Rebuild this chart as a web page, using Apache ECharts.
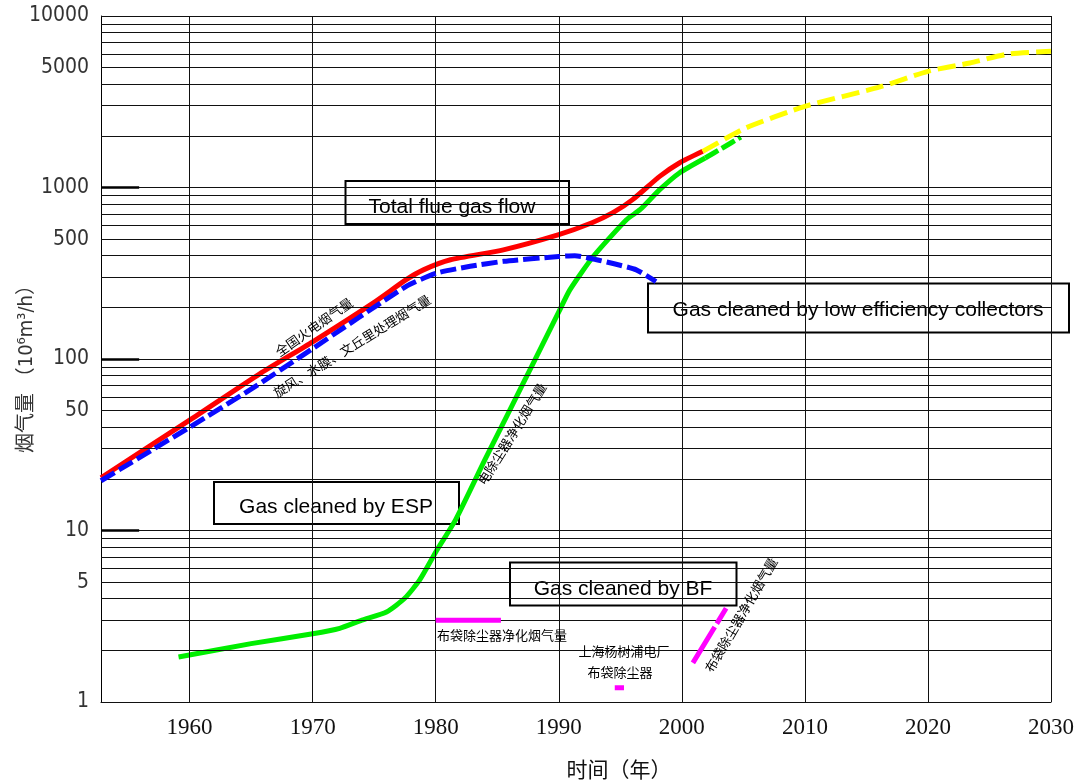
<!DOCTYPE html>
<html><head><meta charset="utf-8">
<script src="https://cdn.jsdelivr.net/npm/echarts@6/dist/echarts.min.js"></script>
<style>html,body{margin:0;padding:0;background:#fff}#c{width:1077px;height:784px}</style>
</head><body><div id="c"></div>
<script>
// ---- axis ticks ----
const X_MIN = 1952.8, X_MAX = 2030;
const xTickLabels = [1960, 1970, 1980, 1990, 2000, 2010, 2020, 2030];
const yTickLabels = [1, 5, 10, 50, 100, 500, 1000, 5000, 10000];
const yDecadeMarks = [10, 100, 1000];
const yAxisTitle = '烟气量 （10⁶m³/h）';
const xAxisTitle = '时间（年）';

// ---- series data (year, 10^6 m3/h) ----
const totalYears  = [1952.8, 1960, 1965.7, 1970, 1975, 1977.6, 1979, 1981.2, 1985.5, 1990, 1992.7, 1994.4, 1996, 1998.2, 1999.8, 2001.7];
const totalValues = [20.3, 44, 82, 126, 214, 290, 331, 379, 433, 531, 623, 713, 850, 1161, 1390, 1625];

const lowEffYears  = [1952.8, 1960, 1964.9, 1970, 1977.6, 1980.1, 1982.8, 1985.5, 1990, 1991.3, 1992.8, 1994.5, 1996.3, 1997.9];
const lowEffValues = [19.5, 40, 66, 115, 265, 317, 347, 371, 396, 400, 383, 359, 331, 283];

const espYears  = [1959.1, 1965, 1970, 1972.2, 1974, 1976, 1977.5, 1978.7, 1980.1, 1981.6, 1984, 1986, 1988, 1990, 1990.9, 1992.8, 1995.5, 1996.6, 1998.2, 1999.8, 2001.9];
const espValues = [1.83, 2.19, 2.5, 2.69, 3.0, 3.35, 4.04, 5.15, 7.7, 11.5, 25.9, 50, 97, 188, 253, 396, 649, 742, 971, 1216, 1486];

const espForecastYears  = [2001.9, 2003.3, 2004.8];
const espForecastValues = [1486, 1700, 1969];

const totalForecastYears  = [2001.7, 2005.2, 2010, 2016.1, 2020, 2023.4, 2026.6, 2030];
const totalForecastValues = [1625, 2224, 2972, 3857, 4757, 5323, 6013, 6223];

const bfEarlyYears  = [1980, 1985.3];
const bfEarlyValues = [3, 3];
const bfYangshupuYears  = [1994.55, 1995.3];
const bfYangshupuValues = [1.21, 1.21];
const bfLateYears  = [2000.9, 2003.6];
const bfLateValues = [1.69, 3.52];

// ---- helpers ----
const zip = (xs, ys) => xs.map((x, i) => [x, ys[i]]);
const yGridValues = [];
for (let k = 0; k < 4; k++) for (let m = 1; m <= 9; m++) yGridValues.push(m * Math.pow(10, k));
yGridValues.push(10000);
const xGridValues = xTickLabels;

const CJK = "'Noto Sans CJK SC', sans-serif";
const SANS = "'Liberation Sans', Arial, sans-serif";

function lineSeries(name, xs, ys, color, type, z, smooth) {
  return {
    name, type: 'line', data: zip(xs, ys), symbol: 'none', smooth: smooth === undefined ? 0.2 : smooth, z,
    lineStyle: { color, width: 5, type, cap: 'butt', join: 'round' }
  };
}

function box(x, y, w, h, text, tx, ty) {
  return {
    type: 'group', z: 100, children: [
      { type: 'rect', shape: { x, y, width: w, height: h }, style: { fill: '#fff', stroke: '#000', lineWidth: 2 } },
      { type: 'text', x: tx, y: ty, style: { text, fontSize: 21, fontFamily: SANS, fill: '#000', align: 'center', verticalAlign: 'middle' } }
    ]
  };
}
function cjkText(text, x, y, deg) {
  return { type: 'text', z: 100, x, y, rotation: (deg || 0) * Math.PI / 180,
    style: { text, fontSize: 13, fontFamily: CJK, fill: '#000', align: 'center', verticalAlign: 'middle' } };
}

const chart = echarts.init(document.getElementById('c'), null, { renderer: 'canvas' });
chart.setOption({
  animation: false,
  backgroundColor: '#fff',
  grid: { left: 101, right: 26, top: 16, bottom: 82, containLabel: false, outerBoundsMode: 'none' },
  xAxis: {
    type: 'value', min: X_MIN, max: X_MAX,
    axisLine: { show: true, lineStyle: { color: '#000', width: 1 } },
    axisTick: { show: false },
    splitLine: { show: false },
    axisLabel: { customValues: xTickLabels, formatter: v => String(Math.round(v)), fontFamily: "'Liberation Serif', serif", fontSize: 23, color: '#111', margin: 14 },
    name: xAxisTitle, nameLocation: 'middle', nameGap: 57,
    nameTextStyle: { fontFamily: CJK, fontSize: 21, color: '#111', padding: [0, 0, 0, 86] }
  },
  yAxis: {
    type: 'log', logBase: 10, min: 1, max: 10000,
    axisLine: { show: true, lineStyle: { color: '#000', width: 1 } },
    axisTick: { show: false },
    splitLine: { show: false },
    minorSplitLine: { show: false },
    axisLabel: { customValues: yTickLabels, formatter: v => String(v), fontFamily: "'DejaVu Sans Condensed', 'Liberation Sans Narrow', sans-serif", fontSize: 21, color: '#333', margin: 12 }
  },
  series: [
    {
      name: 'grid', type: 'line', data: [], z: 1, silent: true,
      markLine: {
        silent: true, symbol: ['none', 'none'], label: { show: false }, animation: false,
        lineStyle: { color: '#111', width: 1, type: 'solid' },
        emphasis: { disabled: true },
        data: [
          ...yGridValues.map(v => ({ yAxis: v })),
          ...xGridValues.map(v => ({ xAxis: v })),
          ...yDecadeMarks.map(v => [{ coord: [X_MIN, v], lineStyle: { width: 2.5, color: '#000' } }, { coord: [1955.9, v] }])
        ]
      }
    },
    lineSeries('Total flue gas flow', totalYears, totalValues, '#ff0000', 'solid', 3),
    lineSeries('Gas cleaned by ESP', espYears, espValues, '#00ee00', 'solid', 4),
    lineSeries('Gas cleaned by ESP (forecast)', espForecastYears, espForecastValues, '#00ee00', [15, 4], 4),
    lineSeries('Gas cleaned by low efficiency collectors', lowEffYears, lowEffValues, '#0a0aff', [16, 5], 5),
    lineSeries('Total flue gas flow (forecast)', totalForecastYears, totalForecastValues, '#ffff00', [18, 7], 5),
    lineSeries('BF 1980s', bfEarlyYears, bfEarlyValues, '#ff00ff', 'solid', 5, false),
    lineSeries('BF Yangshupu', bfYangshupuYears, bfYangshupuValues, '#ff00ff', 'solid', 5, false),
    lineSeries('BF 2000s', bfLateYears, bfLateValues, '#ff00ff', [42, 4], 5, false)
  ],
  graphic: [
    { type: 'text', z: 100, x: 27, y: 364, rotation: Math.PI / 2,
      style: { text: yAxisTitle, fontSize: 20, fontFamily: "'DejaVu Sans Condensed', 'Noto Sans CJK SC', sans-serif", fill: '#333', align: 'center', verticalAlign: 'middle' } },
    box(345.5, 181, 223.5, 43, 'Total flue gas flow', 452, 207),
    box(648, 283.5, 421, 49, 'Gas cleaned by low efficiency collectors', 858, 310),
    box(214, 482, 245, 42, 'Gas cleaned by ESP', 336, 507),
    box(510, 562.5, 226.5, 43, 'Gas cleaned by BF', 623, 589),
    cjkText('全国火电烟气量', 314, 327, 35),
    cjkText('旋风、水膜、文丘里处理烟气量', 352, 346, 31.7),
    cjkText('电除尘器净化烟气量', 512, 434, 58),
    cjkText('布袋除尘器净化烟气量', 502, 635, 0),
    cjkText('上海杨树浦电厂', 624, 651, 0),
    cjkText('布袋除尘器', 620, 672, 0),
    cjkText('布袋除尘器净化烟气量', 741, 615, 59.7)
  ]
});
</script>
</body></html>
